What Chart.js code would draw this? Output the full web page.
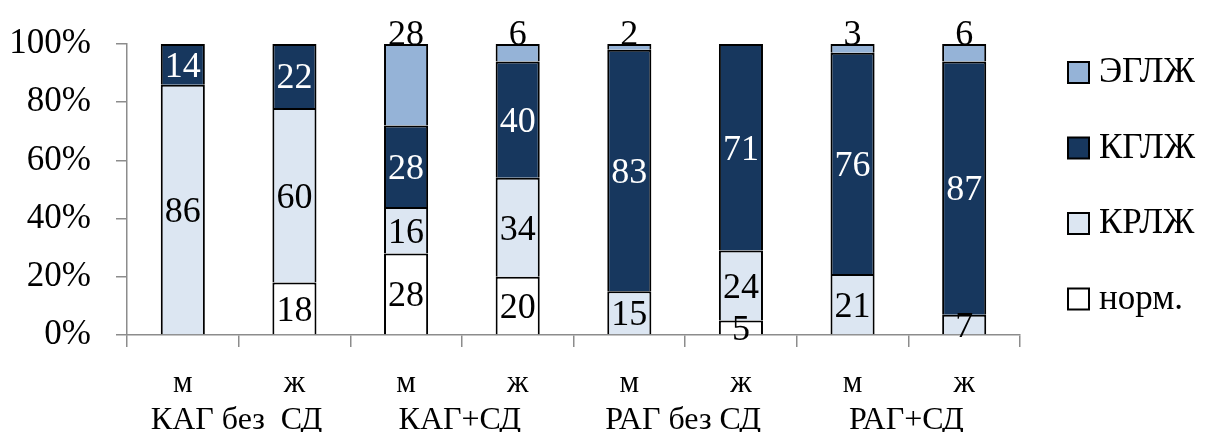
<!DOCTYPE html>
<html>
<head>
<meta charset="utf-8">
<script src="https://cdn.jsdelivr.net/npm/chart.js@4"></script>
<style>
  html, body { margin: 0; padding: 0; background: #fff; }
  #wrap { width: 1209px; height: 432px; }
</style>
</head>
<body>
<div id="wrap"><canvas id="lvChart" width="1209" height="432"></canvas></div>
<script>
// sex per bar and the group each pair belongs to
var sexLabels = ['м', 'ж', 'м', 'ж', 'м', 'ж', 'м', 'ж'];
var groupLabels = ['КАГ без  СД', 'КАГ+СД', 'РАГ без СД', 'РАГ+СД'];

// share of each geometry type, %
var norm = [0, 18, 28, 20, 0, 5, 0, 0];
var krlzh = [86, 60, 16, 34, 15, 24, 21, 7];
var kglzh = [14, 22, 28, 40, 83, 71, 76, 87];
var eglzh = [0, 0, 28, 6, 2, 0, 3, 6];

var yTicks = [0, 20, 40, 60, 80, 100];

var serif = '"Liberation Serif", "Times New Roman", serif';
var axisGrey = '#8c8c8c';

function ds(label, data, color, textColor) {
    return {
        label: label,
        data: data,
        backgroundColor: color,
        borderColor: '#000000',
        borderWidth: 2,
        // no bottom edge: the segment below already draws that line
        borderSkipped: 'start',
        barPercentage: 0.395,
        categoryPercentage: 1,
        labelColor: textColor
    };
}

// values written on the bars; ЭГЛЖ goes on top of the column
var barValues = {
    id: 'barValues',
    afterDatasetsDraw: function (chart) {
        var ctx = chart.ctx;
        ctx.save();
        ctx.font = '36px ' + serif;
        ctx.textAlign = 'center';
        chart.data.datasets.forEach(function (set, di) {
            var meta = chart.getDatasetMeta(di);
            meta.data.forEach(function (bar, i) {
                var v = set.data[i];
                if (!v) return;
                ctx.fillStyle = set.labelColor;
                if (di === 3) {
                    ctx.textBaseline = 'alphabetic';
                    ctx.fillText(v, bar.x, bar.y + 1);
                } else {
                    ctx.textBaseline = 'middle';
                    ctx.fillText(v, bar.x, (bar.y + bar.base) / 2 + 3);
                }
            });
        });
        ctx.restore();
    }
};

// second row of category labels, one per pair of bars
var groupRow = {
    id: 'groupRow',
    afterDraw: function (chart) {
        var ctx = chart.ctx;
        var x = chart.scales.x;
        ctx.save();
        ctx.font = '32px ' + serif;
        ctx.fillStyle = '#000';
        ctx.textAlign = 'center';
        ctx.textBaseline = 'alphabetic';
        groupLabels.forEach(function (g, k) {
            var cx = (x.getPixelForValue(2 * k) + x.getPixelForValue(2 * k + 1)) / 2;
            ctx.fillText(g, cx - 2, chart.height - 3);
        });
        ctx.restore();
    }
};

// legend on the right, top item is the top of the stack
var sideLegend = {
    id: 'sideLegend',
    afterDraw: function (chart) {
        var ctx = chart.ctx;
        var area = chart.chartArea;
        var sets = chart.data.datasets.slice().reverse();
        ctx.save();
        ctx.font = '35px ' + serif;
        ctx.textBaseline = 'middle';
        ctx.textAlign = 'left';
        sets.forEach(function (set, k) {
            var cy = area.top + 28 + k * 75.5;
            var bx = area.right + 48;
            ctx.fillStyle = set.backgroundColor;
            ctx.fillRect(bx, cy - 10, 21, 21);
            ctx.lineWidth = 2;
            ctx.strokeStyle = '#000';
            ctx.strokeRect(bx, cy - 10, 21, 21);
            ctx.fillStyle = '#000';
            ctx.fillText(set.label, bx + 31, cy + 1);
        });
        ctx.restore();
    }
};

new Chart(document.getElementById('lvChart'), {
    type: 'bar',
    data: {
        labels: sexLabels,
        datasets: [
            ds('норм.', norm, '#ffffff', '#000000'),
            ds('КРЛЖ', krlzh, '#dce6f2', '#000000'),
            ds('КГЛЖ', kglzh, '#17375e', '#ffffff'),
            ds('ЭГЛЖ', eglzh, '#95b3d7', '#000000')
        ]
    },
    plugins: [barValues, groupRow, sideLegend],
    options: {
        responsive: false,
        animation: false,
        layout: {
            padding: { left: 0, right: 189, top: 44, bottom: 0 }
        },
        plugins: {
            legend: { display: false },
            tooltip: { enabled: false }
        },
        scales: {
            x: {
                stacked: true,
                afterFit: function (s) {
                    s.height = 97;
                    s.paddingLeft = 0;
                    s.paddingRight = 0;
                },
                grid: {
                    offset: true,
                    drawOnChartArea: false,
                    drawTicks: true,
                    tickLength: 12,
                    color: axisGrey,
                    lineWidth: 1.5
                },
                border: { color: axisGrey, width: 1.5 },
                ticks: {
                    color: '#000',
                    padding: 18,
                    maxRotation: 0,
                    font: { family: serif, size: 31 }
                }
            },
            y: {
                stacked: true,
                min: 0,
                max: 100,
                afterBuildTicks: function (s) {
                    s.ticks = yTicks.map(function (v) { return { value: v }; });
                },
                afterFit: function (s) {
                    s.width = 127;
                    s.paddingTop = 0;
                    s.paddingBottom = 0;
                },
                grid: {
                    drawOnChartArea: false,
                    drawTicks: true,
                    tickLength: 11,
                    color: axisGrey,
                    lineWidth: 1.5
                },
                border: { color: axisGrey, width: 1.5 },
                ticks: {
                    color: '#000',
                    padding: 25,
                    font: { family: serif, size: 35 },
                    callback: function (v) { return v + '%'; }
                }
            }
        }
    }
});
</script>
</body>
</html>
